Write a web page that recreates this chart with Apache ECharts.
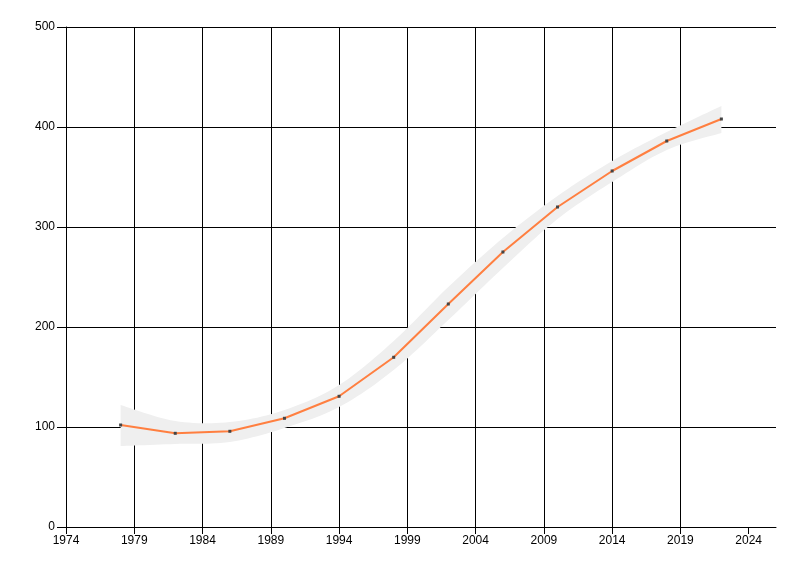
<!DOCTYPE html>
<html lang="en">
<head>
    <meta charset="UTF-8">
    <title>Trend</title>
    <script src="https://cdn.jsdelivr.net/npm/echarts@6/dist/echarts.min.js"></script>
    <style>
        html, body { margin: 0; padding: 0; background: #fff; }
        #main { width: 800px; height: 576px; }
    </style>
</head>
<body>
<div id="main"></div>
<script>
    // data
    var years = [1978, 1982, 1986, 1990, 1994, 1998, 2002, 2006, 2010, 2014, 2018, 2022];
    var values = [102, 93.7, 95.7, 108.7, 130.7, 169.7, 223, 275, 320, 356, 386, 408];
    // confidence band, upper and lower edge
    var bandUpper = [122, 106, 105, 117, 142, 186, 240, 289, 331, 366, 395, 421];
    var bandLower = [81, 83, 85, 99, 120, 157, 207, 259, 308, 345, 377, 394];
    var xTicks = [1974, 1979, 1984, 1989, 1994, 1999, 2004, 2009, 2014, 2019, 2024];

    function pairs(xs, ys) {
        var out = [];
        for (var i = 0; i < xs.length; i++) {
            out.push([xs[i], ys[i]]);
        }
        return out;
    }

    // catmull-rom through pixel points, just for drawing the band edge
    function spline(pts, steps) {
        var out = [];
        for (var i = 0; i < pts.length - 1; i++) {
            var p0 = pts[Math.max(i - 1, 0)];
            var p1 = pts[i];
            var p2 = pts[i + 1];
            var p3 = pts[Math.min(i + 2, pts.length - 1)];
            for (var s = 0; s < steps; s++) {
                var t = s / steps, t2 = t * t, t3 = t2 * t;
                var x = 0.5 * (2 * p1[0] + (-p0[0] + p2[0]) * t + (2 * p0[0] - 5 * p1[0] + 4 * p2[0] - p3[0]) * t2 + (-p0[0] + 3 * p1[0] - 3 * p2[0] + p3[0]) * t3);
                var y = 0.5 * (2 * p1[1] + (-p0[1] + p2[1]) * t + (2 * p0[1] - 5 * p1[1] + 4 * p2[1] - p3[1]) * t2 + (-p0[1] + 3 * p1[1] - 3 * p2[1] + p3[1]) * t3);
                out.push([x, y]);
            }
        }
        out.push(pts[pts.length - 1]);
        return out;
    }

    function renderBand(params, api) {
        if (params.dataIndex !== 0) {
            return null;
        }
        var up = [], low = [];
        for (var i = 0; i < years.length; i++) {
            up.push(api.coord([years[i], bandUpper[i]]));
            low.push(api.coord([years[i], bandLower[i]]));
        }
        var points = spline(up, 12).concat(spline(low, 12).reverse());
        return {
            type: 'polygon',
            shape: { points: points },
            style: { fill: '#efefef' },
            silent: true
        };
    }

    var font = '"Liberation Sans Narrow", "Liberation Sans", Arial, sans-serif';
    var chart = echarts.init(document.getElementById('main'));

    chart.setOption({
        animation: false,
        grid: { left: 66, top: 27, right: 24, bottom: 49, containLabel: false },
        xAxis: {
            type: 'value',
            min: 1974,
            max: 2026,
            axisLine: { show: true, lineStyle: { color: '#000', width: 1 } },
            axisTick: { show: true, length: 7, customValues: xTicks, lineStyle: { color: '#000' } },
            axisLabel: {
                customValues: xTicks,
                formatter: function (v) { return String(v); },
                color: '#000',
                fontFamily: font,
                fontSize: 12,
                margin: 8
            },
            splitLine: { show: true, showMaxLine: false, lineStyle: { color: '#000', width: 1 } }
        },
        yAxis: {
            type: 'value',
            min: 0,
            max: 500,
            interval: 100,
            axisLine: { show: true, lineStyle: { color: '#000', width: 1 } },
            axisTick: { show: true, length: 9, lineStyle: { color: '#000' } },
            axisLabel: {
                color: '#000',
                fontFamily: font,
                fontSize: 12,
                margin: 11
            },
            splitLine: { show: true, lineStyle: { color: '#000', width: 1 } }
        },
        series: [
            {
                type: 'custom',
                renderItem: renderBand,
                data: pairs(years, bandUpper),
                encode: { x: 0, y: 1 },
                silent: true,
                z: 3
            },
            {
                type: 'line',
                data: pairs(years, values),
                symbol: 'rect',
                symbolSize: 3,
                itemStyle: { color: '#444' },
                lineStyle: { color: '#ff7f40', width: 2 },
                z: 5
            }
        ]
    });
</script>
</body>
</html>
